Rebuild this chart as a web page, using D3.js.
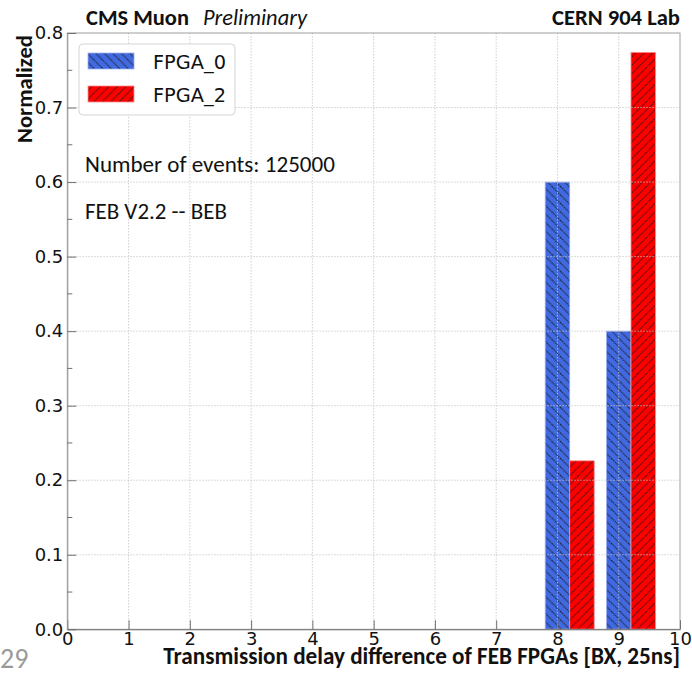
<!DOCTYPE html>
<html><head><meta charset="utf-8">
<script src="https://cdn.jsdelivr.net/npm/d3@7"></script>
<style>
html,body{margin:0;padding:0;background:#fff;}
svg{display:block;}
</style></head>
<body>
<svg id="chart" width="692" height="674"></svg>
<script>
// ---- data ----
const categories = [8, 9];
const fpga0 = [0.6, 0.4];
const fpga2 = [0.226, 0.774];
const seriesNames = ["FPGA_0", "FPGA_2"];
const xTicks = [0,1,2,3,4,5,6,7,8,9,10];
const yTicks = [0.0,0.1,0.2,0.3,0.4,0.5,0.6,0.7,0.8];
const yMinorTicks = [0.05,0.15,0.25,0.35,0.45,0.55,0.65,0.75];
const binWidth = 0.4;

const svg = d3.select("#chart");
const M = {left: 67.3, right: 680, top: 33, bottom: 629.3};
const x = d3.scaleLinear().domain([0,10]).range([M.left, M.right]);
const y = d3.scaleLinear().domain([0,0.8]).range([M.bottom, M.top]);

const calibri = "Carlito, Lato, 'Liberation Sans', sans-serif";
const dejavu = "'DejaVu Sans', sans-serif";

// fit a text's font size to a target width
function fit(sel, target) {
  const n = sel.node();
  const fs = parseFloat(sel.attr("font-size"));
  const w = n.getComputedTextLength();
  if (w > 0) sel.attr("font-size", (fs * target / w).toFixed(2));
  return sel;
}

// patterns
const defs = svg.append("defs");
function hatch(id, color, dir) {
  const s = 8.5;
  const p = defs.append("pattern").attr("id", id).attr("patternUnits","userSpaceOnUse")
    .attr("width", s).attr("height", s);
  p.append("rect").attr("width",s).attr("height",s).attr("fill",color);
  const d = dir === "back"
    ? `M-2,-2 L${s+2},${s+2} M-2,${s-2} L2,${s+2} M${s-2},-2 L${s+2},2`
    : `M-2,${s+2} L${s+2},-2 M-2,2 L2,-2 M${s-2},${s+2} L${s+2},${s-2}`;
  p.append("path").attr("d", d).attr("stroke","#1a1a1a").attr("stroke-width",1)
    .attr("stroke-dasharray","1.4,0.8");
}
hatch("hBlue", "#4169e1", "back");
hatch("hRed", "#ff0000", "fwd");

const colors = ["url(#hBlue)", "url(#hRed)"];
const edge = ["#9db0ef", "#ff8c8c"];
const series = [fpga0, fpga2];
const offsets = [-0.2, 0.2];

// bars
series.forEach((vals, si) => {
  svg.append("g").selectAll("rect").data(categories.map((c,i)=>({c, v: vals[i]})))
    .join("rect")
    .attr("x", d => x(d.c + offsets[si]))
    .attr("width", d => x(d.c + offsets[si] + binWidth) - x(d.c + offsets[si]))
    .attr("y", d => y(d.v))
    .attr("height", d => y(0) - y(d.v))
    .attr("fill", colors[si])
    .attr("stroke", edge[si]).attr("stroke-width", 0.8);
});

// grid (on top)
const grid = svg.append("g");
grid.selectAll(".gx").data(xTicks.slice(1,-1)).join("line")
  .attr("x1", d=>x(d)).attr("x2", d=>x(d)).attr("y1", M.top).attr("y2", M.bottom)
  .attr("stroke","#c4c4c4").attr("stroke-width",0.8).attr("stroke-dasharray","1.5,1.5");
grid.selectAll(".gy").data(yTicks.slice(1,-1)).join("line")
  .attr("y1", d=>y(d)).attr("y2", d=>y(d)).attr("x1", M.left).attr("x2", M.right)
  .attr("stroke","#c4c4c4").attr("stroke-width",0.8).attr("stroke-dasharray","1.5,1.5");

// frame
svg.append("rect").attr("x", M.left).attr("y", M.top).attr("width", M.right-M.left).attr("height", M.bottom-M.top)
  .attr("fill","none").attr("stroke","#a0a0a0").attr("stroke-width",1);

// axes
const xAxis = d3.axisBottom(x).tickValues(xTicks).tickSizeInner(-9).tickSizeOuter(0).tickPadding(3)
  .tickFormat(d3.format("d"));
const gx = svg.append("g").attr("transform", `translate(0,${M.bottom})`).call(xAxis);
gx.select(".domain").attr("stroke","#707070");
gx.selectAll(".tick line").attr("stroke","#707070");
gx.selectAll("text").attr("font-family", dejavu).attr("font-size", 18).attr("fill","#111");

const yAxis = d3.axisLeft(y).tickValues(yTicks).tickSizeInner(-9).tickSizeOuter(0).tickPadding(4)
  .tickFormat(d3.format(".1f"));
const gy = svg.append("g").attr("transform", `translate(${M.left},0)`).call(yAxis);
gy.select(".domain").attr("stroke","#9a9a9a");
gy.selectAll(".tick line").attr("stroke","#707070");
gy.selectAll("text").attr("font-family", dejavu).attr("font-size", 18).attr("fill","#111");

svg.append("g").selectAll("line").data(yMinorTicks).join("line")
  .attr("x1", M.left).attr("x2", M.left + 5).attr("y1", d=>y(d)).attr("y2", d=>y(d))
  .attr("stroke","#707070").attr("stroke-width",1);

// titles
fit(svg.append("text").attr("x", 86).attr("y", 25).attr("font-family", calibri).attr("font-weight","bold")
  .attr("font-size", 18).attr("fill","#111").text("CMS Muon"), 103);
fit(svg.append("text").attr("x", 203).attr("y", 25).attr("font-family", calibri).attr("font-style","italic")
  .attr("font-size", 18).attr("fill","#111").text("Preliminary"), 104);
fit(svg.append("text").attr("x", 680).attr("y", 25).attr("text-anchor","end").attr("font-family", calibri)
  .attr("font-weight","bold").attr("font-size", 18).attr("fill","#111").text("CERN 904 Lab"), 128);

// axis titles
fit(svg.append("text").attr("transform", `translate(32,35) rotate(-90)`).attr("text-anchor","end")
  .attr("font-family", calibri).attr("font-weight","bold").attr("font-size", 18).attr("fill","#111").text("Normalized"), 108);
fit(svg.append("text").attr("x", 680).attr("y", 664).attr("text-anchor","end")
  .attr("font-family", calibri).attr("font-weight","bold").attr("font-size", 18).attr("fill","#111")
  .text("Transmission delay difference of FEB FPGAs [BX, 25ns]"), 517);

// annotations
fit(svg.append("text").attr("x", 85).attr("y", 172).attr("font-family", calibri).attr("font-size", 19)
  .attr("fill","#111").text("Number of events: 125000"), 250);
fit(svg.append("text").attr("x", 85).attr("y", 219).attr("font-family", calibri).attr("font-size", 19)
  .attr("fill","#111").text("FEB V2.2 -- BEB"), 142);

// legend
const lg = svg.append("g");
lg.append("rect").attr("x", 79).attr("y", 44).attr("width", 156).attr("height", 71).attr("rx", 4)
  .attr("fill","rgba(255,255,255,0.85)").attr("stroke","#d5d5d5");
seriesNames.forEach((n, i) => {
  const yy = 53 + i*33;
  lg.append("rect").attr("x", 88).attr("y", yy).attr("width", 46).attr("height", 16)
    .attr("fill", colors[i]).attr("stroke", edge[i]).attr("stroke-width",0.8);
  fit(lg.append("text").attr("x", 153).attr("y", yy + 16).attr("font-family", dejavu).attr("font-size", 19)
    .attr("fill","#111").text(n), 73);
});

// slide page number fragment
svg.append("text").attr("x", 0).attr("y", 668).attr("font-family", calibri).attr("font-size", 28)
  .attr("fill","#9a9a9a").text("29");
</script>
</body></html>
